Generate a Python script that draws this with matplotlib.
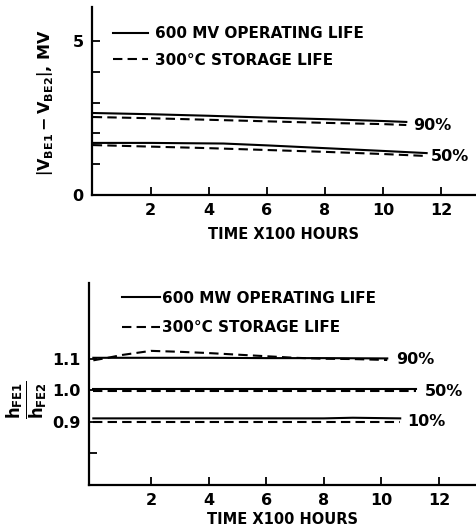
import matplotlib
matplotlib.use("Agg")
import matplotlib.pyplot as plt
from matplotlib.lines import Line2D

# top panel: |VBE1 - VBE2| (mV) vs time (x100 h)
vbe90_op_t = [0, 2, 4, 6, 8, 10, 10.8]
vbe90_op = [2.66, 2.62, 2.57, 2.51, 2.46, 2.40, 2.37]
vbe90_st_t = [0, 2, 4, 6, 8, 10, 10.8]
vbe90_st = [2.53, 2.49, 2.44, 2.39, 2.34, 2.30, 2.27]
vbe50_op_t = [0, 2, 4.5, 6, 8, 10, 11.5]
vbe50_op = [1.69, 1.69, 1.67, 1.61, 1.52, 1.43, 1.36]
vbe50_st_t = [0, 2, 4, 6, 8, 10, 11.4]
vbe50_st = [1.62, 1.57, 1.52, 1.46, 1.40, 1.33, 1.27]

# bottom panel: hFE1/hFE2 vs time
hfe90_op_t = [0, 2, 4, 6, 8, 10.2]
hfe90_op = [1.103, 1.103, 1.103, 1.102, 1.102, 1.101]
hfe90_st_t = [0, 0.5, 1, 2, 3, 4, 5, 6, 7, 8, 9, 10.2]
hfe90_st = [1.095, 1.103, 1.112, 1.125, 1.122, 1.118, 1.113, 1.108, 1.103, 1.100, 1.099, 1.096]
hfe50_op_t = [0, 4, 8, 11.2]
hfe50_op = [1.004, 1.004, 1.004, 1.004]
hfe50_st_t = [0, 4, 8, 11.2]
hfe50_st = [0.999, 0.999, 0.999, 0.999]
hfe10_op_t = [0, 4, 8, 9, 10.65]
hfe10_op = [0.911, 0.911, 0.911, 0.913, 0.911]
hfe10_st_t = [0, 4, 8, 10.65]
hfe10_st = [0.900, 0.900, 0.900, 0.900]

xticks = [2, 4, 6, 8, 10, 12]

plt.rcParams["font.family"] = "DejaVu Sans"
plt.rcParams["font.weight"] = "bold"
plt.rcParams["axes.labelweight"] = "bold"
plt.rcParams["mathtext.default"] = "regular"

fig = plt.figure(figsize=(4.76, 5.30), dpi=100)
LW = 1.5
DASH = (4.5, 2.5)


def style_axes(ax):
    for s in ["top", "right"]:
        ax.spines[s].set_visible(False)
    for s in ["left", "bottom"]:
        ax.spines[s].set_linewidth(1.6)
    ax.tick_params(direction="in", length=6, width=1.3, labelsize=11.5, pad=6)
    ax.set_xticks(xticks)
    ax.set_xticklabels([str(t) for t in xticks])


# ---- top chart
ax1 = fig.add_axes([0.193, 0.632, 0.807, 0.355])
style_axes(ax1)
ax1.plot(vbe90_op_t, vbe90_op, "k-", lw=LW)
ax1.plot(vbe90_st_t, vbe90_st, "k--", lw=LW, dashes=DASH)
ax1.plot(vbe50_op_t, vbe50_op, "k-", lw=LW)
ax1.plot(vbe50_st_t, vbe50_st, "k--", lw=LW, dashes=DASH)
ax1.text(11.05, 2.27, "90%", fontsize=11.5, va="center")
ax1.text(11.65, 1.25, "50%", fontsize=11.5, va="center")
ax1.set_xlim(-0.03, 13.2)
ax1.set_ylim(0, 6.1)
ax1.set_yticks([0, 1, 2, 3, 4, 5])
ax1.set_yticklabels(["0", "", "", "", "", "5"])
ax1.set_xlabel("TIME X100 HOURS", fontsize=10.5, labelpad=6)
handles = [Line2D([], [], color="k", lw=LW),
           Line2D([], [], color="k", lw=LW, ls="--", dashes=DASH)]
ax1.legend(handles, ["600 MV OPERATING LIFE", "300°C STORAGE LIFE"],
           loc="upper left", bbox_to_anchor=(0.02, 0.97), frameon=False,
           fontsize=11, handlelength=2.3, handletextpad=0.4, labelspacing=0.75)
fig.text(45 / 476, 1 - 103 / 530, r"$\left|V_{BE1}-V_{BE2}\right|$, MV",
         rotation=90, ha="center", va="center", fontsize=11.5)

# ---- bottom chart
ax2 = fig.add_axes([0.187, 0.085, 0.813, 0.381])
style_axes(ax2)
ax2.plot(hfe90_op_t, hfe90_op, "k-", lw=LW)
ax2.plot(hfe90_st_t, hfe90_st, "k--", lw=LW, dashes=DASH)
ax2.plot(hfe50_op_t, hfe50_op, "k-", lw=LW)
ax2.plot(hfe50_st_t, hfe50_st, "k--", lw=LW, dashes=DASH)
ax2.plot(hfe10_op_t, hfe10_op, "k-", lw=LW)
ax2.plot(hfe10_st_t, hfe10_st, "k--", lw=LW, dashes=DASH)
ax2.text(10.5, 1.097, "90%", fontsize=11.5, va="center")
ax2.text(11.5, 0.997, "50%", fontsize=11.5, va="center")
ax2.text(10.9, 0.900, "10%", fontsize=11.5, va="center")
ax2.set_xlim(-0.15, 13.28)
ax2.set_ylim(0.70, 1.34)
ax2.set_yticks([0.8, 0.9, 1.0, 1.1])
ax2.set_yticklabels(["", "0.9", "1.0", "1.1"])
ax2.set_xlabel("TIME X100 HOURS", fontsize=10.5, labelpad=3)
ax2.legend(handles, ["600 MW OPERATING LIFE", "300°C STORAGE LIFE"],
           loc="upper left", bbox_to_anchor=(0.05, 1.03), frameon=False,
           fontsize=11, handlelength=2.5, handletextpad=0.1, labelspacing=0.95)
fig.text(27 / 476, 1 - 400 / 530, r"$\frac{h_{FE1}}{h_{FE2}}$",
         rotation=90, ha="center", va="center", fontsize=17)

fig.savefig("out.png", dpi=100)
